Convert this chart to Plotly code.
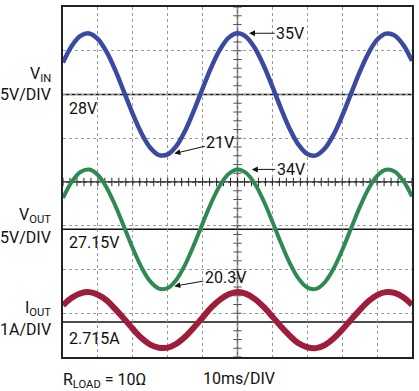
import numpy as np
import plotly.graph_objects as go

# ---- data ----
TIME_MS = [0, 2.5, 5, 7.5, 10, 12.5, 15, 17.5, 20, 22.5, 25, 27.5, 30, 32.5, 35, 37.5,
           40, 42.5, 45, 47.5, 50, 52.5, 55, 57.5, 60, 62.5, 65, 67.5, 70, 72.5, 75,
           77.5, 80, 82.5, 85, 87.5, 90, 92.5, 95, 97.5, 100]
VIN_V = [31.66, 33.55, 34.70, 34.98, 34.34, 32.87, 30.76, 28.28, 25.77, 23.55, 21.92,
         21.08, 21.16, 22.13, 23.87, 26.16, 28.68, 31.12, 33.15, 34.50, 35.00, 34.58,
         33.29, 31.31, 28.90, 26.36, 24.04, 22.25, 21.20, 21.05, 21.82, 23.39, 25.57,
         28.07, 30.56, 32.71, 34.25, 34.96, 34.76, 33.67, 31.84]
VOUT_V = [30.73, 32.58, 33.71, 33.98, 33.36, 31.91, 29.85, 27.43, 24.97, 22.80, 21.20,
          20.38, 20.45, 21.40, 23.11, 25.35, 27.82, 30.21, 32.19, 33.51, 34.00, 33.59,
          32.33, 30.39, 28.03, 25.55, 23.28, 21.52, 20.50, 20.35, 21.10, 22.64, 24.77,
          27.22, 29.66, 31.76, 33.26, 33.96, 33.77, 32.70, 30.91]
IOUT_A = [3.10, 3.27, 3.37, 3.40, 3.34, 3.21, 3.01, 2.79, 2.56, 2.35, 2.20, 2.13, 2.13,
          2.22, 2.38, 2.59, 2.82, 3.05, 3.23, 3.35, 3.40, 3.36, 3.24, 3.06, 2.84, 2.61,
          2.40, 2.23, 2.14, 2.12, 2.19, 2.34, 2.54, 2.77, 2.99, 3.19, 3.33, 3.40, 3.38,
          3.28, 3.11]

REF_VIN = 28.0
REF_VOUT = 27.15
REF_IOUT = 2.715
CALLOUTS = [  # (text, time ms, value, axis, ax, ay)
    ("35V", 53.3, 35.0, "y", 41, 0),
    ("21V", 31.9, 21.25, "y", 46, -11),
    ("34V", 54.1, 34.0, "y2", 39, 0),
    ("20.3V", 31.9, 20.65, "y2", 51, -9),
]

FONT = "Roboto, sans-serif"
FS = 16
BLUE = "#3a49a2"
GREEN = "#2f8a52"
RED = "#9e1d3a"

fig = go.Figure()

# graticule minor ticks on the centre cross
vin_ticks = np.arange(-2, 38.01, 1.0)
t_ticks = np.arange(0, 100.01, 2.0)
fig.add_trace(go.Scatter(x=[50] * len(vin_ticks), y=vin_ticks, mode="markers",
                         marker=dict(symbol="line-ew", size=6, line=dict(width=1, color="#555")),
                         hoverinfo="skip", yaxis="y"))
fig.add_trace(go.Scatter(x=t_ticks, y=[18] * len(t_ticks), mode="markers",
                         marker=dict(symbol="line-ns", size=6, line=dict(width=1, color="#222")),
                         hoverinfo="skip", yaxis="y"))

fig.add_trace(go.Scatter(x=TIME_MS, y=VIN_V, mode="lines", line=dict(color=BLUE, width=4.5, shape="spline"),
                         yaxis="y", name="VIN"))
fig.add_trace(go.Scatter(x=TIME_MS, y=VOUT_V, mode="lines", line=dict(color=GREEN, width=4, shape="spline"),
                         yaxis="y2", name="VOUT"))
fig.add_trace(go.Scatter(x=TIME_MS, y=IOUT_A, mode="lines", line=dict(color=RED, width=6, shape="spline"),
                         yaxis="y3", name="IOUT"))

shapes = [
    dict(type="line", xref="x", yref="paper", x0=50, x1=50, y0=0, y1=1, line=dict(color="#666", width=1.5), layer="below"),
    dict(type="line", xref="paper", yref="y", x0=0, x1=1, y0=18, y1=18, line=dict(color="#111", width=1.5), layer="below"),
    dict(type="line", xref="paper", yref="y", x0=0, x1=1, y0=REF_VIN, y1=REF_VIN, line=dict(color="#111", width=1.5), layer="below"),
    dict(type="line", xref="paper", yref="y2", x0=0, x1=1, y0=REF_VOUT, y1=REF_VOUT, line=dict(color="#111", width=1.5), layer="below"),
    dict(type="line", xref="paper", yref="y3", x0=0, x1=1, y0=REF_IOUT, y1=REF_IOUT, line=dict(color="#111", width=1.5), layer="below"),
]

ann = []
for text, t, v, ax_name, ax, ay in CALLOUTS:
    ann.append(dict(x=t, y=v, xref="x", yref=ax_name, text=text, showarrow=True,
                    arrowhead=2, arrowsize=1.2, arrowwidth=1, arrowcolor="#111",
                    ax=ax, ay=ay, standoff=0, font=dict(family=FONT, size=FS, color="#111")))

def ptext(text, x, y, xanchor="left"):
    ann.append(dict(x=x, y=y, xref="paper", yref="paper", text=text, showarrow=False,
                    xanchor=xanchor, yanchor="middle", borderpad=0,
                    font=dict(family=FONT, size=FS, color="#111")))

ptext("V<sub>IN</sub>", -0.031, 0.808, "right")
ptext("5V/DIV", -0.031, 0.750, "right")
ptext("V<sub>OUT</sub>", -0.031, 0.405, "right")
ptext("5V/DIV", -0.031, 0.342, "right")
ptext("I<sub>OUT</sub>", -0.031, 0.140, "right")
ptext("1A/DIV", -0.031, 0.080, "right")
ptext("28V", 0.014, 0.709)
ptext("27.15V", 0.014, 0.328)
ptext("2.715A", 0.014, 0.054)
ptext("R<sub>LOAD</sub> = 10Ω", -0.003, -0.068)
ptext("10ms/DIV", 0.397, -0.060)

fig.update_layout(
    width=419, height=391,
    margin=dict(l=63, r=5, t=6, b=34),
    paper_bgcolor="white", plot_bgcolor="white",
    showlegend=False,
    shapes=shapes, annotations=ann,
    xaxis=dict(range=[0, 100], dtick=10, tick0=0, showgrid=True, griddash="dot",
               gridcolor="#999", gridwidth=1, showticklabels=False, ticks="",
               zeroline=False, showline=True, mirror=True, linecolor="#222", linewidth=2),
    yaxis=dict(range=[-2, 38], tick0=3, dtick=5, showgrid=True, griddash="dot",
               gridcolor="#999", gridwidth=1, showticklabels=False, ticks="",
               zeroline=False, showline=True, mirror=True, linecolor="#222", linewidth=2),
    yaxis2=dict(range=[12.56, 52.56], overlaying="y", showgrid=False, showticklabels=False,
                zeroline=False, ticks=""),
    yaxis3=dict(range=[1.917, 9.917], overlaying="y", showgrid=False, showticklabels=False,
                zeroline=False, ticks=""),
)

fig.write_html("out.html", config={"displayModeBar": False},
               post_script="document.body.style.margin='0px';document.body.style.overflow='hidden';")
